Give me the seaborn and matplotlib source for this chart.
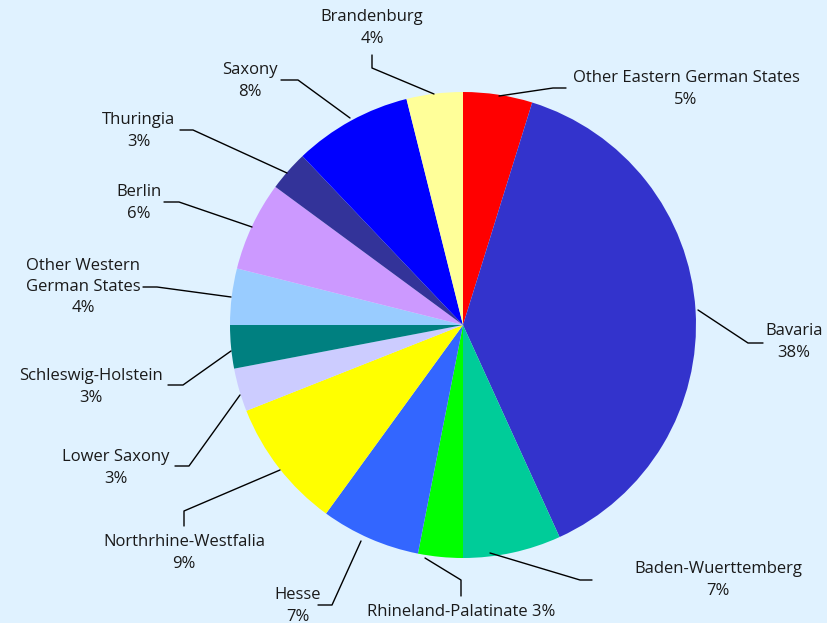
import numpy as np
import matplotlib
matplotlib.use("Agg")
import matplotlib.pyplot as plt
import seaborn as sns

# share of each state, clockwise from 12 o'clock
states = ["Other Eastern German States", "Bavaria", "Baden-Wuerttemberg",
          "Rhineland-Palatinate", "Hesse", "Northrhine-Westfalia", "Lower Saxony",
          "Schleswig-Holstein", "Other Western German States", "Berlin",
          "Thuringia", "Saxony", "Brandenburg"]
shares = [4.8, 38.4, 6.8, 3.1, 6.9, 9.0, 3.0, 3.0, 3.9, 6.2, 2.8, 8.2, 3.9]
pct_labels = ["5%", "38%", "7%", "3%", "7%", "9%", "3%", "3%", "4%", "6%", "3%", "8%", "4%"]
label_names = ["Other Eastern German States", "Bavaria", "Baden-Wuerttemberg",
               "Rhineland-Palatinate", "Hesse", "Northrhine-Westfalia", "Lower Saxony",
               "Schleswig-Holstein", "Other Western\nGerman States", "Berlin",
               "Thuringia", "Saxony", "Brandenburg"]
colors = ["#FF0000", "#3333CC", "#00CC99", "#00FF00", "#3366FF", "#FFFF00", "#CCCCFF",
          "#008080", "#99CCFF", "#CC99FF", "#333399", "#0000FF", "#FFFF99"]

bg = "#E0F2FF"
sns.set_theme(style="white")
plt.rcParams["font.family"] = ["Open Sans", "DejaVu Sans"]

W, H = 828, 623
cx, cy, R = 463, 325, 233

fig = plt.figure(figsize=(W / 100, H / 100), dpi=100, facecolor=bg)
ax = fig.add_axes([0, 0, 1, 1])
ax.set_facecolor(bg)
ax.pie(shares, colors=colors, startangle=90, counterclock=False, radius=1,
       wedgeprops=dict(linewidth=0))
ax.set_xlim(-cx / R, (W - cx) / R)
ax.set_ylim(-(H - cy) / R, cy / R)
ax.set_aspect("equal")
ax.axis("off")


def px(p):
    return ((p[0] - cx) / R, (cy - p[1]) / R)


# leader line path and text centre, in pixels of the original layout
layout = [
    ([(499, 96), (553, 88), (566, 88)], (686, 89)),
    ([(698, 310), (748, 343), (763, 343)], (794, 342)),
    ([(490, 553), (580, 580), (592, 580)], (718, 580)),
    ([(425, 558), (461, 580), (461, 596)], (461, 612)),
    ([(361, 541), (332, 605), (318, 605)], (298, 606)),
    ([(280, 470), (184, 511), (184, 526)], (184, 553)),
    ([(240, 395), (189, 466), (175, 466)], (116, 468)),
    ([(231, 351), (183, 385), (168, 385)], (91, 387)),
    ([(231, 297), (157, 287), (143, 287)], (83, 287)),
    ([(252, 227), (179, 202), (164, 202)], (139, 203)),
    ([(287, 173), (193, 130), (180, 130)], (139, 131)),
    ([(350, 118), (298, 80), (281, 80)], (250, 81)),
    ([(434, 94), (372, 68), (372, 55)], (372, 28)),
]

for name, pct, (path, tpos) in zip(label_names, pct_labels, layout):
    pts = np.array([px(p) for p in path])
    ax.plot(pts[:, 0], pts[:, 1], color="black", lw=1)
    if name == "Rhineland-Palatinate":
        txt = f"{name} {pct}"
    else:
        txt = f"{name}\n{pct}"
    tx, ty = px(tpos)
    ax.text(tx, ty, txt, ha="center", va="center", multialignment="center",
            fontsize=12, color="#1a1a1a", linespacing=1.42)

fig.savefig("out.png", dpi=100, facecolor=bg)
